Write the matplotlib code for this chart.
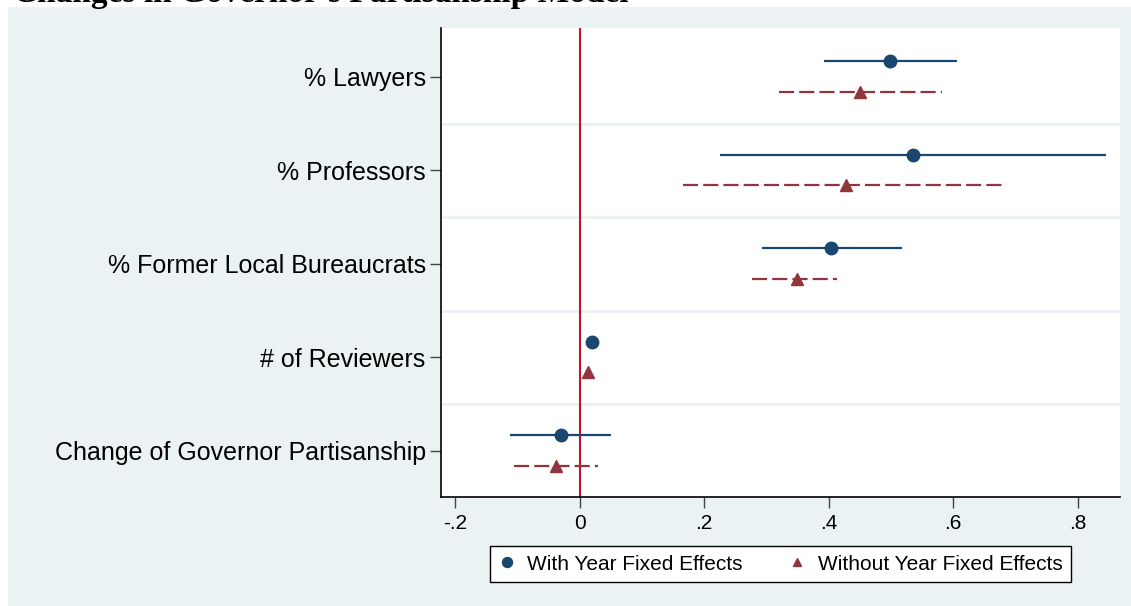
import numpy as np
import matplotlib.pyplot as plt
from matplotlib.patches import Rectangle

plt.rcParams['font.family'] = ['Liberation Sans', 'DejaVu Sans']

categories = ["% Lawyers", "% Professors", "% Former Local Bureaucrats",
              "# of Reviewers", "Change of Governor Partisanship"]

# with year fixed effects: estimate, lower CI, upper CI
fe_est = [0.499, 0.536, 0.404, 0.0196, -0.030]
fe_lo = [0.393, 0.226, 0.293, 0.0180, -0.112]
fe_hi = [0.606, 0.846, 0.518, 0.0212, 0.050]

# without year fixed effects
nofe_est = [0.451, 0.428, 0.349, 0.014, -0.038]
nofe_lo = [0.320, 0.166, 0.277, 0.0125, -0.105]
nofe_hi = [0.582, 0.682, 0.414, 0.0155, 0.029]

xticks = [-0.2, 0, 0.2, 0.4, 0.6, 0.8]
xtick_labels = ["-.2", "0", ".2", ".4", ".6", ".8"]

navy = "#1a476f"
maroon = "#90353b"
bg = "#eaf2f3"

W, H = 1131, 606
fig = plt.figure(figsize=(W / 100, H / 100), dpi=100)
fig.patch.set_facecolor("white")
fig.patches.append(Rectangle((8 / W, 0), 1 - 8 / W, (H - 7) / H,
                             transform=fig.transFigure, facecolor=bg,
                             edgecolor="none", zorder=-10))

# title is cut off at the top edge, as in the original
fig.text(13 / W, 1 - 2 / H, "Changes in Governor's Partisanship Model",
         family="Liberation Serif", weight="bold", fontsize=24,
         va="baseline", ha="left")

ax = fig.add_axes([441 / W, 1 - 497 / H, (1120 - 441) / W, (497 - 28) / H])
ax.set_facecolor("white")

pos = np.arange(1, len(categories) + 1)
off_fe, off_nofe = -0.17, 0.16

for g in [1.5, 2.5, 3.5, 4.5]:
    ax.axhline(g, color=bg, lw=2, zorder=1)
ax.axvline(0, color="#c8102e", lw=1.5, zorder=2)

ax.hlines(pos + off_fe, fe_lo, fe_hi, color=navy, lw=1.6, zorder=3)
ax.hlines(pos + off_nofe, nofe_lo, nofe_hi, color=maroon, lw=1.6,
          linestyles=(0, (6.8, 2.3)), zorder=3)
ax.plot(fe_est, pos + off_fe, "o", color=navy, ms=9, zorder=4,
        label="With Year Fixed Effects")
ax.plot(nofe_est, pos + off_nofe, "^", color=maroon, ms=8, zorder=4,
        label="Without Year Fixed Effects")

ax.set_xlim(-0.2225, 0.868)
ax.set_ylim(5.492, 0.476)
ax.set_yticks(pos)
ax.set_yticklabels(categories, fontsize=18)
ax.set_xticks(xticks)
ax.set_xticklabels(xtick_labels, fontsize=15)
ax.tick_params(axis="y", length=8, width=1, color="#444444", pad=3)
ax.tick_params(axis="x", length=8, width=1, color="#444444", pad=4)

for s in ["top", "right"]:
    ax.spines[s].set_visible(False)
for s in ["left", "bottom"]:
    ax.spines[s].set_linewidth(1.2)

leg = fig.legend(loc="center", bbox_to_anchor=((492 + 1069) / 2 / W, 1 - 564 / H),
                 ncol=2, fontsize=15, frameon=True, fancybox=False,
                 edgecolor="black", handlelength=0.8, handletextpad=0.6,
                 columnspacing=2.2, borderpad=0.4, markerscale=0.8)
leg.get_frame().set_linewidth(1.0)
leg.get_frame().set_facecolor("white")
leg.get_frame().set_alpha(1.0)

fig.savefig("out.png", dpi=100)
